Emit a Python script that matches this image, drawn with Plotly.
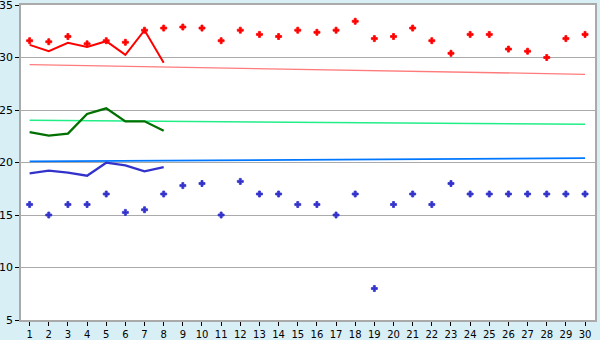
import plotly.graph_objects as go

days = list(range(1, 31))
line_days = list(range(1, 9))

red_points = [31.6, 31.5, 32.0, 31.3, 31.6, 31.45, 32.6, 32.8, 32.9, 32.8,
              31.6, 32.6, 32.2, 32.0, 32.6, 32.4, 32.6, 33.45, 31.8, 32.0,
              32.8, 31.6, 30.4, 32.2, 32.2, 30.8, 30.6, 30.0, 31.8, 32.2]
blue_points = [16, 15, 16, 16, 17, 15.25, 15.5, 17, 17.8, 18,
               15, 18.2, 17, 17, 16, 16, 15, 17, 8, 16,
               17, 16, 18, 17, 17, 17, 17, 17, 17, 17]
red_line = [31.2, 30.6, 31.4, 31.0, 31.55, 30.25, 32.6, 29.5]
green_line = [22.9, 22.56, 22.75, 24.62, 25.16, 23.92, 23.92, 23.03]
blue_line = [18.97, 19.22, 19.03, 18.74, 19.98, 19.73, 19.16, 19.57]

trend_x = [1, 30]
red_trend = [29.32, 28.4]
green_trend = [24.02, 23.64]
blue_trend = [20.1, 20.42]

fig = go.Figure()
fig.add_trace(go.Scatter(x=trend_x, y=red_trend, mode="lines",
                         line=dict(color="#ff7b7b", width=1.3)))
fig.add_trace(go.Scatter(x=trend_x, y=green_trend, mode="lines",
                         line=dict(color="#22ee88", width=1.5)))
fig.add_trace(go.Scatter(x=trend_x, y=blue_trend, mode="lines",
                         line=dict(color="#0077ff", width=1.8)))
fig.add_trace(go.Scatter(x=days, y=red_points, mode="markers",
                         marker=dict(symbol="cross", size=5, color="#ff0000",
                                     line=dict(width=0.8, color="#ff0000"))))
fig.add_trace(go.Scatter(x=days, y=blue_points, mode="markers",
                         marker=dict(symbol="cross", size=5, color="#3333cc",
                                     line=dict(width=0.8, color="#3333cc"))))
fig.add_trace(go.Scatter(x=line_days, y=red_line, mode="lines",
                         line=dict(color="#ff0000", width=2)))
fig.add_trace(go.Scatter(x=line_days, y=green_line, mode="lines",
                         line=dict(color="#007000", width=2.3)))
fig.add_trace(go.Scatter(x=line_days, y=blue_line, mode="lines",
                         line=dict(color="#3333cc", width=2.3)))

fig.update_layout(
    width=600, height=340,
    margin=dict(l=21, r=5, t=5, b=20, autoexpand=False),
    paper_bgcolor="#d9eff6",
    plot_bgcolor="#ffffff",
    showlegend=False,
    hovermode=False,
    font=dict(family="DejaVu Sans", size=10, color="#000000"),
)
fig.update_xaxes(range=[0.55, 30.52], tickmode="array", tickvals=days,
                 ticktext=[str(d) for d in days], showgrid=False,
                 zeroline=False, showline=True, linecolor="#aaaaaa",
                 linewidth=1.5, mirror=True, ticks="outside", ticklen=4,
                 tickcolor="#000000", tickfont=dict(size=10), automargin=False,
                 ticklabeloverflow="allow", ticklabelstandoff=0)
fig.update_yaxes(range=[5, 35], tickmode="array", tickvals=[5, 10, 15, 20, 25, 30, 35],
                 showgrid=True, gridcolor="#aaaaaa", gridwidth=1,
                 zeroline=False, showline=True, linecolor="#aaaaaa",
                 linewidth=1.5, mirror=True, ticks="outside", ticklen=4,
                 tickcolor="#000000", tickfont=dict(size=11), automargin=False,
                 ticklabeloverflow="allow")

fig.write_html("out.html")
